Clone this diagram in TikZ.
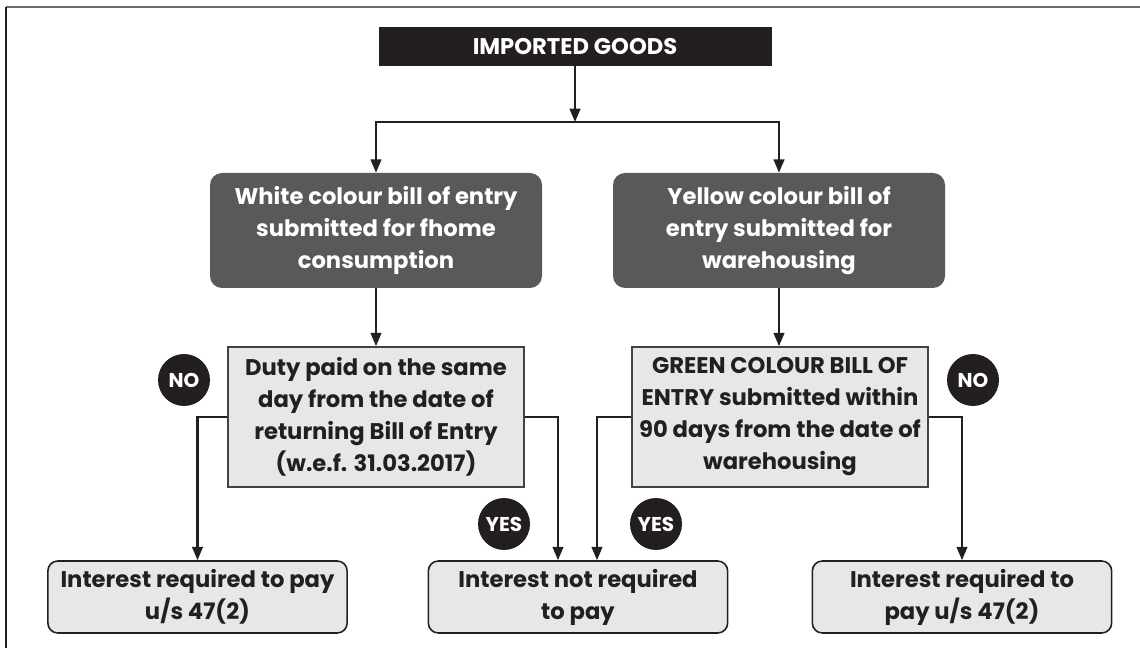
\documentclass[tikz,border=0pt]{standalone}
\usepackage{fontspec}
\setmainfont{Poppins}
\usetikzlibrary{arrows.meta}
\definecolor{cInk}{HTML}{231F20}
\definecolor{cDark}{HTML}{58595B}
\definecolor{cLight}{HTML}{E6E7E8}
\definecolor{cFrame}{HTML}{6D6E71}
\begin{document}
\begin{tikzpicture}[x=0.75pt,y=-0.75pt,
  every node/.style={font=\bfseries\fontsize{17}{24}\selectfont, align=center, inner sep=0pt},
  topbox/.style={fill=cInk, text=white, minimum width=294.75pt, minimum height=29.25pt},
  darkbox/.style={fill=cDark, text=white, rounded corners=9pt, minimum width=249pt, minimum height=86.25pt},
  decbox/.style={fill=cLight, draw=cInk!85, line width=1.2pt, text=cInk, minimum width=222pt, minimum height=105pt},
  endbox/.style={fill=cLight, draw=cInk, line width=1.2pt, rounded corners=7.5pt, text=cInk, minimum width=224.5pt, minimum height=54pt},
  badge/.style={circle, fill=cInk, text=white, minimum size=39pt, font=\bfseries\fontsize{15}{16}\selectfont},
  conn/.style={draw=cInk, line width=1.6pt},
  arr/.style={conn, -{Triangle[length=10pt,width=8pt]}},
]
\useasboundingbox (0,0) rectangle (1140,648);
% frame
\draw[cFrame, line width=1.6pt] (6,7) -- (1140,7);
\draw[cInk, line width=1.2pt] (6,7) -- (6,648);

\node[topbox] (top) at (575,46.5) {IMPORTED GOODS};
\coordinate (j) at (575,122);

\node[darkbox] (white) at (376,230.5) {White colour bill of entry\\submitted for fhome\\consumption};
\node[darkbox] (yellow) at (779,230.5) {Yellow colour bill of\\entry submitted for\\warehousing};

\node[decbox] (duty) at (376,417) {Duty paid on the same\\day from the date of\\returning Bill of Entry\\(w.e.f. 31.03.2017)};
\node[decbox] (green) at (780,417) {GREEN COLOUR BILL OF\\ENTRY submitted within\\90 days from the date of\\warehousing};

\node[endbox] (bl) at (197.5,597) {Interest required to pay\\u/s 47(2)};
\node[endbox] (bm) at (578,597) {Interest not required\\to pay};
\node[endbox] (br) at (962,597) {Interest required to\\pay u/s 47(2)};

\node[badge] (no1) at (184,380) {NO};
\node[badge] (yes1) at (504,524) {YES};
\node[badge] (yes2) at (656,524) {YES};
\node[badge] (no2) at (973,380) {NO};

\draw[arr] (top) -- (j);
\draw[arr] (j) -| (white.north);
\draw[arr] (j) -| (yellow.north);
\draw[arr] (white) -- (white |- duty.north);
\draw[arr] (yellow) -- (yellow |- green.north);
\draw[arr] (duty.west) -| (bl.north);
\draw[arr] (duty.east) -| ([xshift=-15pt]bm.north);
\draw[arr] (green.west) -| ([xshift=14.25pt]bm.north);
\draw[arr] (green.east) -| (br.north);
\end{tikzpicture}
\end{document}
